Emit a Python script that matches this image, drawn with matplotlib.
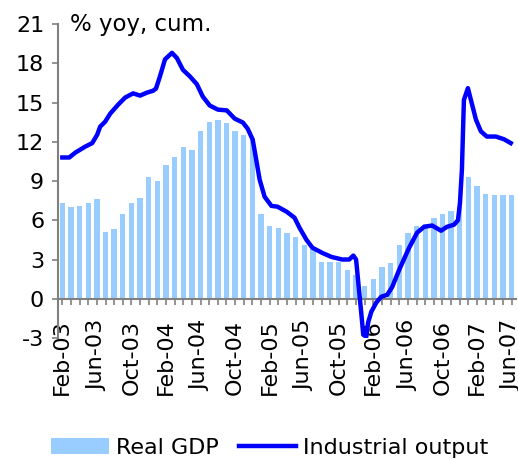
import matplotlib
matplotlib.use('Agg')
import matplotlib.pyplot as plt

plt.rcParams['axes.unicode_minus'] = False

# real GDP, % yoy cumulative, monthly Feb-03 .. Jun-07
gdp = [7.3, 7.0, 7.1, 7.3, 7.6, 5.1, 5.3, 6.5, 7.3, 7.7, 9.3, 9.0,
       10.2, 10.8, 11.6, 11.4, 12.8, 13.5, 13.7, 13.4, 12.8, 12.5, 12.2,
       6.5, 5.6, 5.4, 5.0, 4.7, 4.1, 3.8, 2.8, 2.8, 2.8, 2.2, 1.8,
       1.0, 1.5, 2.4, 2.7, 4.1, 5.0, 5.6, 5.7, 6.2, 6.5, 6.7, 7.0,
       9.3, 8.6, 8.0, 7.9, 7.9, 7.9]

# industrial output: position in months since Feb-03, value
ind_t = [0.0, 0.8, 1.5, 2.65, 3.46, 4.04, 4.38, 4.96, 5.54, 6.46, 7.27, 8.19,
         9.0, 9.8, 10.5, 10.84, 11.3, 11.88, 12.69, 13.26, 13.96, 14.76, 15.57,
         16.26, 17.07, 18.0, 19.03, 19.95, 20.9, 21.45, 22.03, 22.5, 22.84,
         23.41, 24.2, 24.9, 25.95, 26.87, 27.45, 28.26, 28.95, 30.1, 31.14,
         32.4, 33.2, 33.68, 34.0, 34.26, 34.6, 34.83, 35.18, 35.4, 35.76,
         36.33, 36.9, 37.6, 38.18, 38.98, 40.14, 41.06, 41.87, 42.8, 43.83,
         44.52, 45.33, 45.79, 46.02, 46.25, 46.37, 46.48, 46.94, 47.29, 47.87,
         48.44, 49.13, 50.17, 51.1, 51.9]
ind = [10.8, 10.8, 11.17, 11.63, 11.9, 12.55, 13.16, 13.54, 14.15, 14.84, 15.38, 15.7,
       15.53, 15.76, 15.9, 16.07, 17.0, 18.3, 18.8, 18.4, 17.5, 17.0, 16.4,
       15.45, 14.77, 14.46, 14.4, 13.77, 13.47, 13.0, 12.17, 10.4, 9.1,
       7.8, 7.1, 7.04, 6.66, 6.2, 5.43, 4.5, 3.9, 3.5, 3.2,
       3.0, 3.0, 3.3, 3.0, 1.2, -1.1, -2.75, -2.9, -1.8, -1.0,
       -0.3, 0.15, 0.3, 0.9, 2.2, 3.9, 5.05, 5.5, 5.6, 5.2,
       5.5, 5.66, 6.0, 7.3, 9.9, 12.7, 15.2, 16.1, 15.2, 13.7,
       12.8, 12.4, 12.4, 12.2, 11.9]

tick_labels = ['Feb-03', 'Jun-03', 'Oct-03', 'Feb-04', 'Jun-04', 'Oct-04', 'Feb-05',
               'Jun-05', 'Oct-05', 'Feb-06', 'Jun-06', 'Oct-06', 'Feb-07', 'Jun-07']

fs = 16
grey = '#808080'

fig = plt.figure(figsize=(5.18, 4.59), dpi=100)
ax = fig.add_axes([0.112, 0.2636, 0.884, 0.684])

x = list(range(len(gdp)))
bars = ax.bar(x, gdp, width=0.62, color='#99CCFF', label='Real GDP', zorder=2)
line, = ax.plot(ind_t, ind, color='#0000FF', lw=3.2, label='Industrial output', zorder=3)

ax.set_xlim(-0.5, len(gdp) - 0.5)
ax.set_ylim(-3, 21)
ax.set_yticks(range(-3, 22, 3))

labels = [''] * len(gdp)
for i, lab in enumerate(tick_labels):
    labels[i * 4] = lab
ax.set_xticks(x)
ax.set_xticklabels(labels)

for s in ['top', 'right']:
    ax.spines[s].set_visible(False)
ax.spines['bottom'].set_position(('data', 0))
ax.spines['bottom'].set_color(grey)
ax.spines['left'].set_color(grey)
ax.spines['bottom'].set_linewidth(1.5)
ax.spines['left'].set_linewidth(1.5)
ax.tick_params(axis='x', direction='out', length=4, width=1.2, color=grey, pad=11,
               labelrotation=90, labelsize=fs)
ax.tick_params(axis='y', direction='out', length=4, width=1.2, color=grey, pad=6, labelsize=fs)

fig.text(70 / 518, 1 - 25 / 459, '% yoy, cum.', fontsize=16.5, va='center', ha='left')

fig.legend([bars, line], ['Real GDP', 'Industrial output'],
           loc='center', bbox_to_anchor=(0.521, 0.024), ncol=2, frameon=False,
           fontsize=fs, handlelength=2.6, handletextpad=0.3, columnspacing=0.9,
           handleheight=0.7)

fig.savefig('out.png', dpi=100)
